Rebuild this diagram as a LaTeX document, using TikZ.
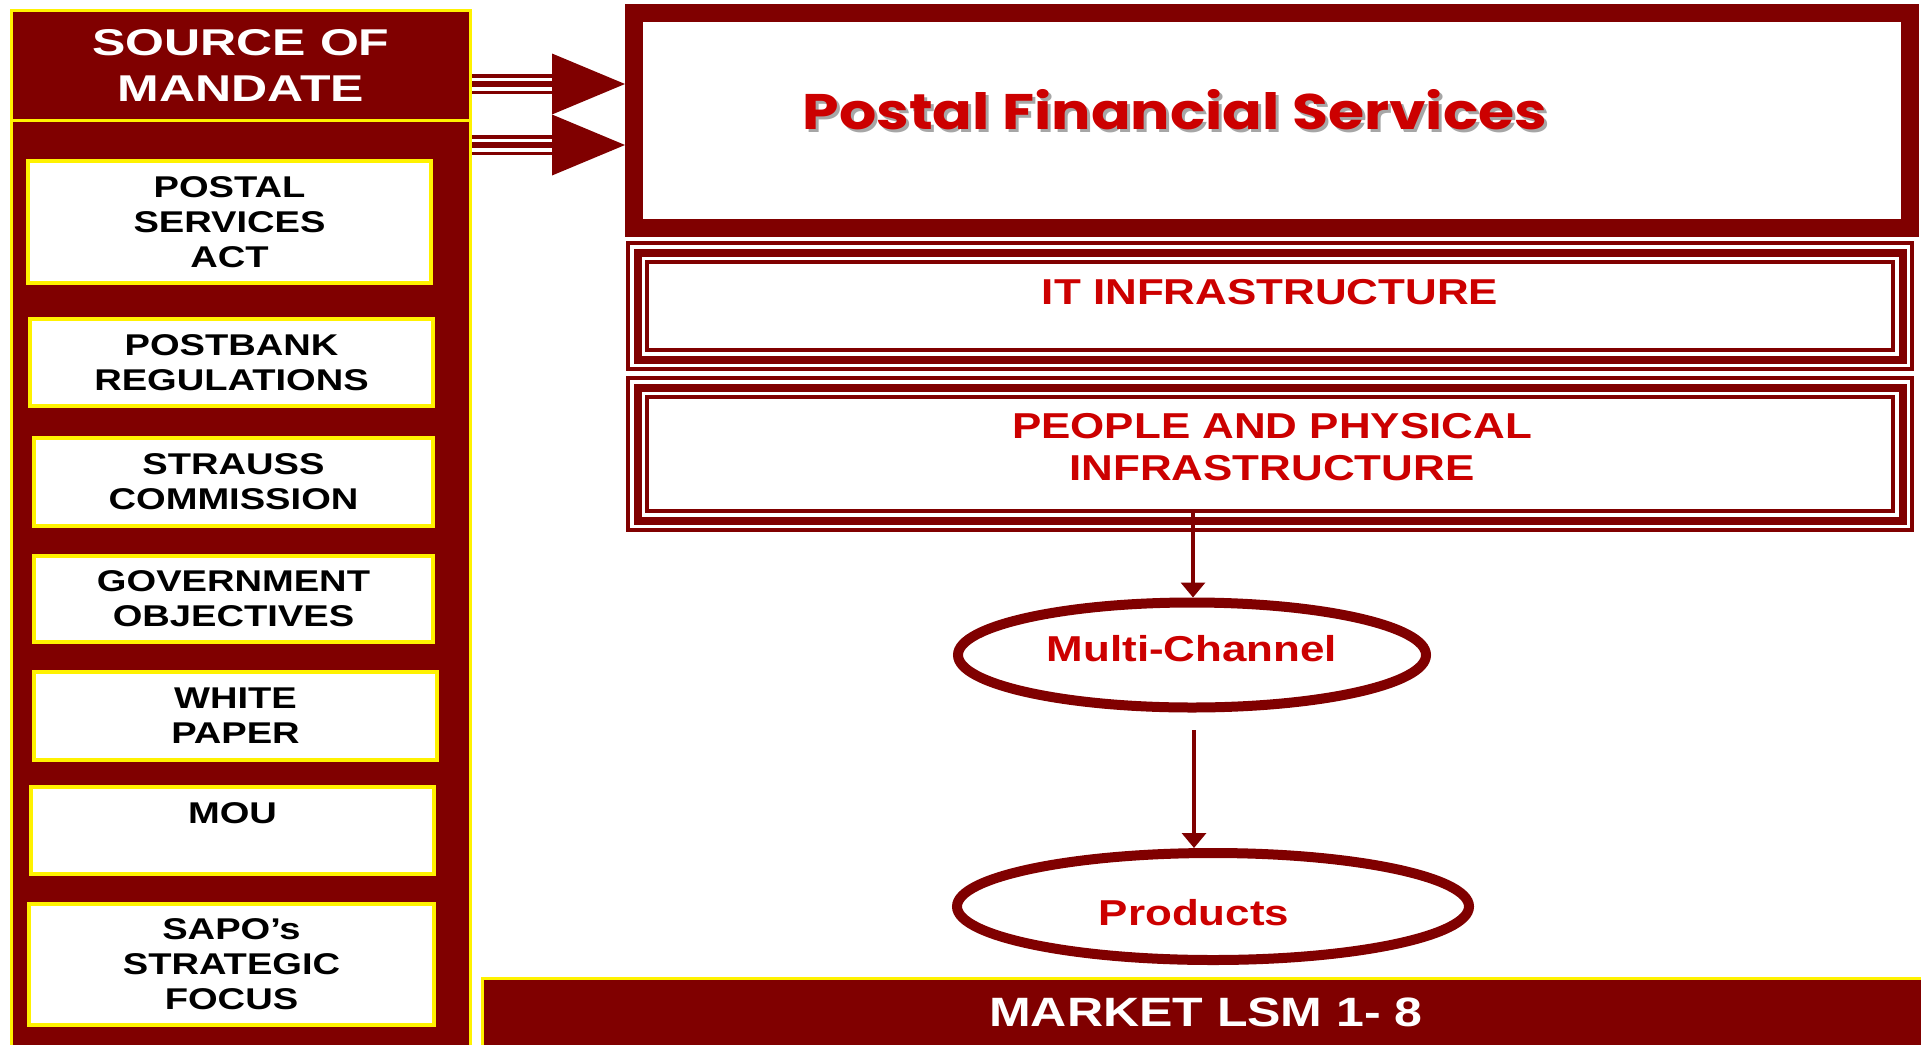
\documentclass[tikz,border=0pt]{standalone}
\usepackage{fontspec}
\setmainfont{Liberation Sans}
\newfontfamily\widesans[FakeStretch=1.22]{Liberation Sans}
\newfontfamily\boxsans[FakeStretch=1.27]{Liberation Sans}
\newfontfamily\widersans[FakeStretch=1.34]{Liberation Sans}
\newfontfamily\roundsans[FakeStretch=1.17]{Poppins}
\usetikzlibrary{shapes.geometric,arrows.meta}
\definecolor{maroon}{HTML}{800000}
\definecolor{pfsred}{HTML}{CC0000}
\definecolor{shadowgray}{HTML}{A6A6A6}

\begin{document}
\begin{tikzpicture}[x=1pt,y=-1pt,
  panel/.style={draw=yellow, fill=maroon, line width=3pt, inner sep=0pt, align=center},
  srcbox/.style={draw=yellow, fill=white, line width=4pt, inner sep=0pt, align=center,
    font=\boxsans\bfseries\fontsize{30}{35}\selectfont},
  infbox/.style={draw=maroon, line width=8pt, inner sep=0pt,
    preaction={draw=maroon, line width=23pt},
    preaction={draw=white, line width=15pt}},
  shaft/.style={draw=maroon, line width=6pt,
    preaction={draw=maroon, line width=20pt},
    preaction={draw=white, line width=13pt}},
  chan/.style={ellipse, draw=maroon, line width=10pt, inner sep=0pt},
  redlbl/.style={text=pfsred, font=\widesans\bfseries\fontsize{36}{42}\selectfont},
  pfsfont/.style={font=\roundsans\bfseries\fontsize{50}{60}\selectfont},
  link/.style={draw=maroon, line width=3.5pt, -{Triangle[length=15pt,width=24pt]}}]
 \useasboundingbox (0,0) rectangle (1921,1044);
 \clip (0,0) rectangle (1921,1044);

 % left column
 \node[panel, minimum width=459pt, minimum height=939.5pt] (body) at (241,590) {};
 \node[panel, minimum width=459pt, minimum height=110pt, text=white,
   font=\widersans\bfseries\fontsize{37.3}{46.7}\selectfont] (hdr) at (241,65.5) {SOURCE OF\\MANDATE};
 \node[srcbox, minimum width=403pt, minimum height=122pt] (act) at (229.5,222) {POSTAL\\SERVICES\\ACT};
 \node[srcbox, minimum width=403pt, minimum height=87pt] (regs) at (231.5,362.5) {POSTBANK\\REGULATIONS};
 \node[srcbox, minimum width=399pt, minimum height=88pt] (strauss) at (233.5,482) {STRAUSS\\COMMISSION};
 \node[srcbox, minimum width=399pt, minimum height=86pt] (gov) at (233.5,599) {GOVERNMENT\\OBJECTIVES};
 \node[srcbox, minimum width=403pt, minimum height=88pt] (paper) at (235.5,716) {WHITE\\PAPER};
 \node[srcbox, minimum width=403pt, minimum height=87pt] (mou) at (232.5,830.5) {MOU\\\mbox{}};
 \node[srcbox, minimum width=405pt, minimum height=121pt] (sapo) at (231.5,964.5) {SAPO’s\\STRATEGIC\\FOCUS};

 % right column
 \node[draw=maroon, line width=18pt, minimum width=1276pt, minimum height=215pt, inner sep=0pt] (pfs) at (1272,120.5) {};
 \node[pfsfont, text=shadowgray] (pfsshade) at (1178,113) {Postal Financial Services};
 \node[pfsfont, text=pfsred] (pfslbl) at (1175,110) {Postal Financial Services};

 \foreach \y in {84,145}{
   \draw[shaft] (hdr.east |- 0,\y) -- (553,\y);
   \fill[maroon] (552,\y-30.5) -- (pfs.west |- 0,\y) -- (552,\y+30.5) -- cycle;
 }

 \node[infbox, minimum width=1265pt, minimum height=107pt] (it) at (1270,306) {};
 \node[redlbl] (itlbl) at (1270,292) {IT INFRASTRUCTURE};
 \node[infbox, minimum width=1265pt, minimum height=133pt] (ppl) at (1270,454) {};
 \node[redlbl, align=center] (ppllbl) at (1272,447) {PEOPLE AND PHYSICAL\\INFRASTRUCTURE};

 \node[chan, redlbl, text depth=14pt, minimum width=468pt, minimum height=105pt] (mc) at (1192,655) {Multi-Channel};
 \node[chan, minimum width=512pt, minimum height=107pt] (prod) at (1213,906.5) {};
 \node[redlbl] (prodlbl) at (1194,913) {Products};

 \coordinate (a1) at (1193,509);
 \coordinate (a2) at (1194,730);
 \draw[link] (a1) -- (a1 |- mc.north);
 \draw[link] (a2) -- (a2 |- prod.north);

 \node[panel, minimum width=1447.5pt, minimum height=68pt, text=white,
   font=\widesans\bfseries\fontsize{41}{45}\selectfont] (market) at (1206,1012) {MARKET LSM 1- 8};
\end{tikzpicture}
\end{document}
